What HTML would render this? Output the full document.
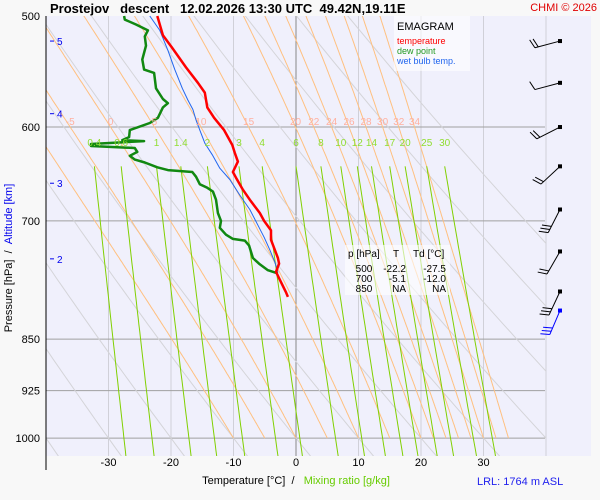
<!DOCTYPE html>
<html><head><meta charset="utf-8"><style>
html,body{margin:0;padding:0;background:#f8f8f8;}
svg{display:block;font-family:"Liberation Sans",sans-serif;}
</style></head><body>
<svg id="chart" width="600" height="500" viewBox="0 0 600 500">
<defs><clipPath id="plotClip"><rect x="46" y="16" width="500" height="440"/></clipPath></defs>
<rect x="46" y="16" width="545" height="440" fill="#f0f0fc"/>
<g id="grid"></g>
<g id="bg" clip-path="url(#plotClip)"></g>
<g id="series"></g>
<g id="barbs"></g>
<g id="labels"></g>
<line x1="46" y1="16" x2="46" y2="470" stroke="#000" stroke-width="1"/>
<text x="50" y="13" font-size="13" font-weight="bold">Prostejov&#160;&#160;&#160;descent&#160;&#160;&#160;12.02.2026 13:30 UTC&#160;&#160;49.42N,19.11E</text>
<text x="597" y="11" font-size="11" fill="#e00000" text-anchor="end">CHMI © 2026</text>
<text transform="translate(12,258) rotate(-90)" font-size="11" text-anchor="middle">Pressure [hPa]&#160;&#160;/&#160;&#160;<tspan fill="#0000ee">Altitude [km]</tspan></text>
<text x="296" y="484" font-size="11" text-anchor="middle">Temperature [°C]&#160;&#160;/&#160;&#160;&#160;<tspan fill="#66cc00">Mixing ratio [g/kg]</tspan></text>
<text x="477" y="485" font-size="11" fill="#2222ee">LRL: 1764 m ASL</text>
<rect x="394" y="16" width="76" height="55" fill="#fff" fill-opacity="0.6"/>
<text x="397" y="30" font-size="11">EMAGRAM</text>
<text x="397" y="44" font-size="9" fill="#ff0000">temperature</text>
<text x="397" y="54" font-size="9" fill="#229922">dew point</text>
<text x="397" y="64" font-size="9" fill="#2266ee">wet bulb temp.</text>
<rect x="345" y="245" width="105" height="50" fill="#fff" fill-opacity="0.6"/>
<g font-size="10">
<text x="348" y="257">p [hPa]</text><text x="396" y="257" text-anchor="middle">T</text><text x="413" y="257">Td [°C]</text>
<text x="364" y="272" text-anchor="middle">500</text><text x="406" y="272" text-anchor="end">-22.2</text><text x="446" y="272" text-anchor="end">-27.5</text>
<text x="364" y="282" text-anchor="middle">700</text><text x="406" y="282" text-anchor="end">-5.1</text><text x="446" y="282" text-anchor="end">-12.0</text>
<text x="364" y="292" text-anchor="middle">850</text><text x="406" y="292" text-anchor="end">NA</text><text x="446" y="292" text-anchor="end">NA</text>
</g>
</svg>
<script>
const tempP=[500,516,527,544,558,567,581,591,603,618,626,635,646,652,665,676,691,700,711,722,734,744,751,761,771,787,793];
const tempT=[-22.2,-21.3,-19.8,-17.6,-15.7,-14.6,-14.2,-13.1,-11.5,-10.2,-9.8,-9.3,-10.1,-9.6,-8.5,-7.4,-5.8,-5.1,-4.0,-4.0,-3.4,-2.9,-2.7,-3.2,-2.6,-1.6,-1.3];
const dewP=[500,503,507,512,517,525,537,546,549,563,573,577,581,591,596,603,610,613,614,617,619,621,625,629,633,636,641,644,646,651,659,663,667,676,691,700,708,716,721,723,729,744,751,759,763];
const dewT=[-27.5,-27.4,-25.6,-23.7,-24.2,-24.0,-24.6,-24.3,-22.7,-22.4,-21.3,-20.5,-21.3,-22.1,-23.4,-26.6,-26.7,-27.8,-24.3,-32.8,-32.8,-25.8,-25.4,-26.6,-25.8,-24.2,-22.2,-20.5,-16.6,-16.0,-15.4,-14.2,-13.3,-12.8,-12.5,-12.0,-12.2,-11.2,-10.1,-8.2,-7.5,-6.9,-5.9,-4.5,-2.9];
const wbP=[500,512,529,546,563,574,583,593,603,616,628,642,654,671,687,705,719,734,749,761];
const wbT=[-23.4,-21.8,-20.5,-19.4,-18.2,-17.3,-16.5,-16.0,-15.4,-14.6,-13.4,-12.2,-10.6,-9.0,-7.4,-6.1,-5.1,-4.2,-3.4,-2.9];
const windP=[521,558,600,640,687,736,786,811];
const windDir=[255,255,243,227,207,210,205,203];
const windSpd=[20,10,20,20,30,20,30,30];
const pTicks=[600,700,850,925,1000];
const tTicks=[-30,-20,-10,0,10,20,30];
const altKm=[5,4,3,2];
const altP=[521,587,658,745];
const thetaW=[-10,-5,0,5,10,15,20,22,24,26,28,30,32,34];
const thetaWLabels=[-5,0,5,10,15,20,22,24,26,28,30,32,34];
const thetaDry=[-50,-40,-30,-20,-10,0,10,20,30,40,50,60,70];
const mixR=[0.4,0.6,1,1.4,2,3,4,6,8,10,12,14,17,20,25,30];

const NS='http://www.w3.org/2000/svg';
const X=t=>296+t*6.25;
const Y=p=>16+609*Math.log(p/500);
function mk(tag,at,parent){const e=document.createElementNS(NS,tag);for(const k in at)e.setAttribute(k,at[k]);parent.appendChild(e);return e;}
const grid=document.getElementById('grid'),bg=document.getElementById('bg'),ser=document.getElementById('series'),bar=document.getElementById('barbs'),lab=document.getElementById('labels');

tTicks.forEach(t=>{const l=mk('line',{x1:X(t),x2:X(t),y1:16,y2:456,stroke:t===0?'#888':'#d0d0d8','stroke-width':1},grid);


const tx=mk('text',{x:X(t),y:466,'font-size':11,'text-anchor':'middle'},lab);tx.textContent=t;

});
{const l=mk('line',{x1:X(40),x2:X(40),y1:16,y2:456,stroke:'#d0d0d8','stroke-width':1},grid);

}
pTicks.forEach(p=>{const l=mk('line',{x1:46,x2:545,y1:Y(p),y2:Y(p),stroke:'#a0a0a0','stroke-width':1},grid);

});
[500].concat(pTicks).forEach(p=>{const tx=mk('text',{x:40,y:Y(p)+4,'font-size':11,'text-anchor':'end'},lab);tx.textContent=p;

});
altKm.forEach((k,i)=>{const y=Y(altP[i]);const l=mk('line',{x1:50,x2:54,y1:y,y2:y,stroke:'#0000ee'},lab);


const tx=mk('text',{x:57,y:y+4,'font-size':10,fill:'#0000ee'},lab);tx.textContent=k;

});

function path(pts,at,parent){return mk('path',Object.assign({d:'M'+pts.map(q=>q[0].toFixed(1)+','+q[1].toFixed(1)).join('L'),fill:'none'},at),parent);}
thetaDry.forEach(th=>{const pts=[];for(let p=480;p<=1040;p+=10)pts.push([X((th+273.15)*Math.pow(p/1000,0.286)-273.15),Y(p)]);
const e=path(pts,{stroke:'#d4d4d8','stroke-width':1},bg);

});
function es(T){return 6.112*Math.exp(17.67*T/(T+243.5));}
function moist(tw){const pts=[];let T=tw;const res={};for(let p=1000;p>=480;p-=2){pts.push([X(T),Y(p)]);if(p===600)res.t600=T;
const Tk=T+273.15,rs=0.622*es(T)/(p-es(T));const L=2.5e6;
const dTdp=(287*Tk+L*rs)/(p*(1005+L*L*rs*0.622/(287*Tk*Tk)));T-=dTdp*2;}res.pts=pts;return res;}
const m600={};
thetaW.forEach(tw=>{const r=moist(tw);m600[tw]=r.t600;const e=path(r.pts,{stroke:'#ffc080','stroke-width':1},bg);

});
thetaWLabels.forEach(tw=>{const tx=mk('text',{x:X(m600[tw]),y:125,'font-size':10,fill:'#ffb0a0','text-anchor':'middle'},lab);tx.textContent=tw;

});
function tdw(w,p){const e=w*p/(622+w);const a=Math.log(e/6.112);return 243.5*a/(17.67-a);}
mixR.forEach(w=>{const pts=[];for(let p=640;p<=1040;p+=10)pts.push([X(tdw(w,p)),Y(p)]);
const e=path(pts,{stroke:'#80d000','stroke-width':1},bg);


const tx=mk('text',{x:X(tdw(w,640)),y:146,'font-size':10,fill:'#90dd30','text-anchor':'middle'},lab);tx.textContent=w;

});
function prof(P,T,col,w,name){const e=path(P.map((p,i)=>[X(T[i]),Y(p)]),{stroke:col,'stroke-width':w,'stroke-linejoin':'round'},ser);

}
prof(wbP,wbT,'#2266ee',1,'wet-bulb-line');
prof(dewP,dewT,'#118811',2.5,'dew-point-line');
prof(tempP,tempT,'#ff0000',2.5,'temperature-line');
windP.forEach((p,i)=>{const x0=560,y0=Y(p);const a=windDir[i]*Math.PI/180;const dx=Math.sin(a),dy=-Math.cos(a);
const L=26;const col=i===windP.length-1?'#0000ff':'#000';
const g=mk('g',{stroke:col,'stroke-width':1,fill:'none'},bar);


mk('line',{x1:x0,y1:y0,x2:x0+dx*L,y2:y0+dy*L},g);
mk('rect',{x:x0-2,y:y0-2,width:4,height:4,fill:col,stroke:'none'},g);
const px=-dy,py=dx;let n=Math.floor(windSpd[i]/10);
for(let k=0;k<n;k++){const bx=x0+dx*(L-k*3.5),by=y0+dy*(L-k*3.5);
mk('line',{x1:bx,y1:by,x2:bx+px*9+dx*3,y2:by+py*9+dy*3},g);}});
</script>
</body></html>
